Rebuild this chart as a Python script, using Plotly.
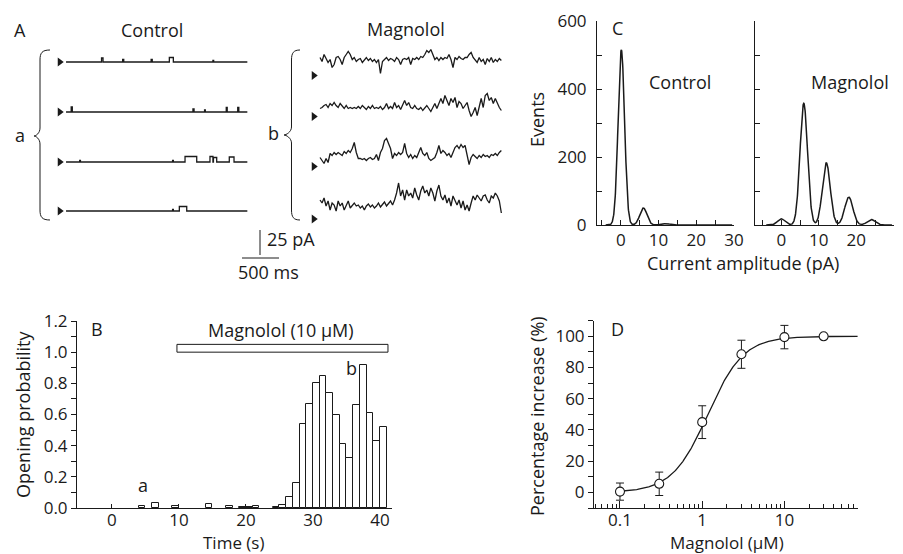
import numpy as np
import plotly.graph_objects as go

W, H = 903, 554
FONT = "Open Sans"
INK = "#1a1a1a"
FS = 18          # panel labels and titles
FS_TICK = 17     # tick labels

# ---------------- Panel A: single-channel current sweeps ----------------
SWEEP_MS = 2450                      # duration of each sweep (ms)
MAG_T0 = 3432                        # time offset of the magnolol column (ms)
control_baselines = [228, 178, 128, 79]          # closed level of each control sweep (pA offset)
magnolol_baselines = [214.5, 173.5, 123.5, 71]   # closed level of each magnolol sweep (pA offset)

# control sweeps: openings as (start ms, end ms, amplitude pA)
control_openings = [
    [(480, 500, 4.0), (765, 780, 2.5), (1150, 1165, 2.5), (1396, 1450, 4.5), (1985, 1995, 1.5)],
    [(70, 85, 5.0), (1715, 1730, 3.0), (1872, 1882, 2.0), (2165, 2178, 4.5), (2320, 2335, 4.5)],
    [(185, 195, 1.5), (1440, 1450, 1.5), (1608, 1766, 5.5), (1945, 1985, 5.5), (1992, 2036, 4.5),
     (2206, 2270, 5.0)],
    [(1440, 1450, 1.5), (1531, 1631, 4.5)],
]

# magnolol sweeps: current above the closed level (pA), evenly sampled over the sweep
magnolol_sweep_1 = [18, 14, 21, 16, 13, 16, 8, 11, 18, 19, 16, 11, 18, 21, 24,
                    21, 16, 18, 14, 16, 17, 13, 16, 18, 15, 17, 14, 16, 13, 16,
                    2, 14, 16, 18, 15, 17, 16, 14, 18, 16, 11, 16, 17, 16, 18,
                    11, 17, 16, 18, 16, 19, 18, 21, 25, 23, 26, 21, 16, 18, 15,
                    18, 16, 18, 17, 21, 16, 8, 18, 16, 19, 17, 16, 18, 18, 21,
                    23, 18, 16, 13, 18, 14, 16, 11, 17, 14, 18, 13, 16, 14, 17, 15]
magnolol_sweep_2 = [8, 9, 11, 12, 9, 13, 11, 14, 11, 9, 13, 10, 8, 11, 8,
                    9, 8, 9, 8, 10, 8, 11, 9, 7, 10, 8, 11, 8, 9, 8,
                    10, 7, 9, 13, 8, 10, 8, 14, 9, 11, 7, 11, 16, 11, 14,
                    9, 8, 11, 8, 7, 9, 6, 8, 11, 8, 5, 9, 13, 8, 14,
                    18, 13, 21, 16, 11, 18, 14, 19, 9, 15, 13, 8, 11, 14, 6,
                    0, 4, 9, 1, 11, 18, 9, 21, 23, 16, 19, 13, 18, 13, 9, 6]
magnolol_sweep_3 = [9, 6, 3, 8, 4, 13, 11, 14, 12, 14, 12, 11, 15, 13, 16,
                    14, 18, 24, 14, 8, 8, 7, 8, 6, 8, 9, 7, 8, 12, 6,
                    14, 18, 26, 28, 23, 18, 8, 13, 11, 14, 12, 14, 23, 13, 9,
                    12, 8, 11, 9, 14, 19, 13, 11, 14, 8, 6, 8, 9, 14, 21,
                    13, 16, 14, 11, 13, 9, 14, 19, 21, 18, 22, 19, 21, 13, 2,
                    9, 12, 10, 8, 11, 9, 12, 10, 11, 9, 12, 11, 13, 11, 14, 16]
magnolol_sweep_4 = [19, 16, 21, 13, 18, 9, 16, 14, 8, 18, 13, 16, 9, 14, 18,
                    11, 14, 16, 13, 14, 11, 13, 9, 13, 15, 12, 14, 11, 13, 16,
                    12, 14, 17, 13, 15, 18, 14, 19, 26, 36, 23, 29, 19, 29, 23,
                    26, 21, 31, 24, 19, 28, 33, 26, 29, 23, 31, 26, 18, 28, 34,
                    23, 19, 24, 16, 21, 13, 23, 18, 14, 19, 11, 18, 9, 14, 8,
                    16, 23, 19, 24, 21, 18, 23, 24, 19, 16, 23, 21, 26, 23, 18, 6]
magnolol_sweeps = [magnolol_sweep_1, magnolol_sweep_2, magnolol_sweep_3, magnolol_sweep_4]

SCALE_MS, SCALE_PA = 500, 25         # calibration bar sizes

# ---------------- Panel B: opening probability vs time ----------------
bin_start_s = [4, 6, 9, 14, 17, 19, 20, 21, 24, 25, 26, 27,
               28, 29, 30, 31, 32, 33, 34, 35, 36, 37, 38, 39, 40]
open_prob = [0.015, 0.03, 0.015, 0.028, 0.01, 0.005, 0.005, 0.012, 0.005, 0.018, 0.068, 0.16,
             0.54, 0.67, 0.80, 0.85, 0.74, 0.60, 0.41, 0.32, 0.66, 0.92, 0.61, 0.43, 0.52]
TREAT_START, TREAT_END = 9.7, 41.2   # magnolol application (s)

# ---------------- Panel C: amplitude histograms (Gaussian fits) ----------------
ctrl_peak_pA = [0.15, 6.0, 12.0]
ctrl_peak_events = [515, 50, 4]
ctrl_peak_sd = [0.85, 0.95, 1.0]
mag_peak_pA = [0.0, 6.0, 12.0, 18.0, 24.0]
mag_peak_events = [18, 358, 183, 82, 16]
mag_peak_sd = [1.0, 1.0, 1.05, 1.1, 1.1]

# ---------------- Panel D: concentration-response ----------------
conc_uM = [0.1, 0.3, 1, 3, 10, 30]
pct_increase = [0.5, 5.5, 45, 88.5, 99.5, 100]
pct_sem = [5.5, 7.5, 10.5, 9.0, 7.5, 0]
EC50_uM, HILL_N = 1.17, 2.0


def px(x):
    return x / W


def py(y):
    return 1 - y / H


fig = go.Figure()

# --- A: control sweeps ---
for base, events in zip(control_baselines, control_openings):
    xs, ys = [0], [base]
    for s, e, a in events:
        xs += [s, s, e, e]
        ys += [base, base + a, base + a, base]
    xs.append(SWEEP_MS)
    ys.append(base)
    fig.add_trace(go.Scatter(x=xs, y=ys, mode="lines", line=dict(color=INK, width=1.3),
                             xaxis="x", yaxis="y", hoverinfo="skip", showlegend=False))

# --- A: magnolol sweeps ---
for base, sweep in zip(magnolol_baselines, magnolol_sweeps):
    t = MAG_T0 + np.linspace(0, SWEEP_MS, len(sweep))
    fig.add_trace(go.Scatter(x=t, y=np.array(sweep) + base, mode="lines",
                             line=dict(color=INK, width=1.3), xaxis="x", yaxis="y",
                             hoverinfo="skip", showlegend=False))

# closed-level arrowheads
fig.add_trace(go.Scatter(
    x=[-85] * len(control_baselines) + [MAG_T0 - 85] * len(magnolol_baselines),
    y=control_baselines + magnolol_baselines, mode="markers",
    marker=dict(symbol="triangle-right", size=8, color=INK), xaxis="x", yaxis="y",
    hoverinfo="skip", showlegend=False))

# calibration bars
bar_t, bar_y = 2378, 32
fig.add_trace(go.Scatter(x=[bar_t, bar_t + SCALE_MS], y=[bar_y, bar_y], mode="lines",
                         line=dict(color=INK, width=1), xaxis="x", yaxis="y", showlegend=False))
fig.add_trace(go.Scatter(x=[2621, 2621], y=[bar_y + 3, bar_y + 3 + SCALE_PA], mode="lines",
                         line=dict(color=INK, width=1), xaxis="x", yaxis="y", showlegend=False))

# --- B: histogram ---
fig.add_trace(go.Bar(x=np.array(bin_start_s) + 0.5, y=open_prob, width=1,
                     marker=dict(color="white", line=dict(color=INK, width=1)),
                     xaxis="x2", yaxis="y2", showlegend=False))


def gauss_sum(x, mu, amp, sd):
    out = np.zeros_like(x)
    for m, a, s in zip(mu, amp, sd):
        out += a * np.exp(-0.5 * ((x - m) / s) ** 2)
    return out


xa = np.linspace(-4, 29.5, 700)
fig.add_trace(go.Scatter(x=xa, y=gauss_sum(xa, ctrl_peak_pA, ctrl_peak_events, ctrl_peak_sd),
                         mode="lines", line=dict(color=INK, width=1.5),
                         xaxis="x3", yaxis="y3", showlegend=False))
fig.add_trace(go.Scatter(x=xa, y=gauss_sum(xa, mag_peak_pA, mag_peak_events, mag_peak_sd),
                         mode="lines", line=dict(color=INK, width=1.5),
                         xaxis="x4", yaxis="y4", showlegend=False))

# --- D: Hill fit and mean ± SEM ---
xc = np.logspace(-1, 1.89, 300)
fig.add_trace(go.Scatter(x=xc, y=100 * xc ** HILL_N / (xc ** HILL_N + EC50_uM ** HILL_N),
                         mode="lines", line=dict(color=INK, width=1.3),
                         xaxis="x5", yaxis="y5", showlegend=False))
fig.add_trace(go.Scatter(x=conc_uM, y=pct_increase, mode="markers",
                         marker=dict(symbol="circle", size=9, color="white",
                                     line=dict(color=INK, width=1.1)),
                         error_y=dict(type="data", array=pct_sem, visible=True,
                                      color=INK, thickness=1, width=4),
                         xaxis="x5", yaxis="y5", showlegend=False))

# ---------------- shapes ----------------
def brace(x_tip, x_stem, x_end, y_top, y_mid, y_bot):
    pts = [
        ("M", [(x_end, y_top)]),
        ("C", [(x_stem + 2, y_top), (x_stem, y_top + 3), (x_stem, y_top + 10)]),
        ("L", [(x_stem, y_mid - 8)]),
        ("C", [(x_stem, y_mid - 3), (x_tip + 2, y_mid), (x_tip, y_mid)]),
        ("C", [(x_tip + 2, y_mid), (x_stem, y_mid + 3), (x_stem, y_mid + 8)]),
        ("L", [(x_stem, y_bot - 10)]),
        ("C", [(x_stem, y_bot - 3), (x_stem + 2, y_bot), (x_end, y_bot)]),
    ]
    s = ""
    for cmd, pp in pts:
        s += cmd + " " + " ".join(f"{px(a):.5f},{py(b):.5f}" for a, b in pp) + " "
    return dict(type="path", path=s.strip(), xref="paper", yref="paper",
                line=dict(color=INK, width=1))


shapes = [
    brace(34, 40, 50, 50, 136, 220),
    brace(284, 291.5, 300, 50, 135, 220),
    dict(type="rect", xref="x2", yref="y2", x0=TREAT_START, x1=TREAT_END, y0=1.0, y1=1.05,
         line=dict(color=INK, width=1), fillcolor="white"),
]

# ---------------- text ----------------
def note(text, x, y, size=FS, angle=0, xanchor="center", xref="paper", yref="paper"):
    if xref == "paper":
        x, y = px(x), py(y)
    return dict(text=text, x=x, y=y, xref=xref, yref=yref, showarrow=False,
                xanchor=xanchor, yanchor="middle", textangle=angle,
                font=dict(family=FONT, size=size, color=INK))


annotations = [
    note("A", 20, 30), note("Control", 152, 30), note("Magnolol", 406, 29),
    note("a", 20, 135), note("b", 273, 133),
    note("25 pA", 265, 239, xanchor="left"), note("500 ms", 268, 272),
    note("B", -2.2, 1.147, xref="x2", yref="y2"),
    note("Magnolol (10 μM)", 25.3, 1.142, xref="x2", yref="y2"),
    note("a", 4.7, 0.15, xref="x2", yref="y2"),
    note("b", 35.8, 0.90, xref="x2", yref="y2"),
    note("Opening probability", 23, 415, angle=-90),
    note("Time (s)", 233, 542.5, size=17),
    note("C", 617, 28), note("Control", 680, 82), note("Magnolol", 850, 82),
    note("Events", 537, 120, angle=-90),
    note("Current amplitude (pA)", 743, 263),
    note("D", 617, 329),
    note("Percentage increase (%)", 537, 416, angle=-90),
    note("Magnolol (μM)", 727, 542.5, size=17),
]

tickfont = dict(family=FONT, size=FS_TICK, color=INK)
base_axis = dict(showgrid=False, zeroline=False, showline=True, linecolor=INK, linewidth=1,
                 tickcolor=INK, tickwidth=1, tickfont=tickfont, fixedrange=True,
                 automargin=False)

amp_ticks = [-5, 0, 5, 10, 15, 20, 25, 30]
amp_text = ["" if v % 10 else str(v) for v in amp_ticks]
ev_ticks = list(range(0, 601, 100))
ev_text = [str(v) if v % 200 == 0 else "" for v in ev_ticks]
po_ticks = [round(0.1 * i, 1) for i in range(13)]
po_text = [f"{v:.1f}" if i % 2 == 0 else "" for i, v in enumerate(po_ticks)]
pct_ticks = list(range(-10, 111, 10))
pct_text = [str(v) if v % 20 == 0 else "" for v in pct_ticks]
conc_major = [0.1, 1, 10]
conc_minor = [0.05, 0.06, 0.07, 0.08, 0.09, 0.2, 0.3, 0.4, 0.5, 0.6, 0.7, 0.8, 0.9,
              2, 3, 4, 5, 6, 7, 8, 9, 20, 30, 40, 50, 60, 70]
conc_ticks = sorted(conc_major + conc_minor)
conc_text = [f"{v:g}" if v in conc_major else "" for v in conc_ticks]

fig.update_layout(
    width=W, height=H, margin=dict(l=0, r=0, t=0, b=0, pad=0, autoexpand=False),
    paper_bgcolor="white", plot_bgcolor="rgba(0,0,0,0)",
    showlegend=False, bargap=0, shapes=shapes, annotations=annotations,
    font=dict(family=FONT, color=INK),
    xaxis=dict(domain=[0, px(520)], range=[-892, 6134], visible=False, anchor="y"),
    yaxis=dict(domain=[py(290), py(20)], range=[0, 270], visible=False, anchor="x"),
    xaxis2=dict(base_axis, domain=[px(77), px(392)], range=[-5.22, 41.8], anchor="y2",
                ticks="inside", ticklen=4, tickvals=[0, 10, 20, 30, 40],
                ticklabelstandoff=-3),
    yaxis2=dict(base_axis, domain=[py(508), py(321)], range=[0, 1.2], anchor="x2",
                ticks="outside", ticklen=5, tickvals=po_ticks, ticktext=po_text),
    xaxis3=dict(base_axis, domain=[px(597), px(734)], range=[-6.3, 30], anchor="y3",
                ticks="inside", ticklen=5, tickvals=amp_ticks, ticktext=amp_text),
    yaxis3=dict(base_axis, domain=[py(225), py(21)], range=[0, 600], anchor="x3",
                ticks="inside", ticklen=5, tickvals=ev_ticks, ticktext=ev_text,
                ticklabelstandoff=6),
    xaxis4=dict(base_axis, domain=[px(755), px(894)], range=[-7, 30.05], anchor="y4",
                ticks="inside", ticklen=5, tickvals=amp_ticks, ticktext=amp_text),
    yaxis4=dict(base_axis, domain=[py(225), py(21)], range=[0, 600], anchor="x4",
                ticks="inside", ticklen=5, tickvals=ev_ticks, showticklabels=False),
    xaxis5=dict(base_axis, type="log", domain=[px(594), px(858)], range=[-1.316, 1.895],
                anchor="y5", ticks="inside", ticklen=4, tickvals=conc_ticks,
                ticktext=conc_text, ticklabelstandoff=-3,
                minor=dict(tickvals=conc_major, ticks="inside", ticklen=7, tickcolor=INK)),
    yaxis5=dict(base_axis, domain=[py(508), py(320.7)], range=[-10, 110], anchor="x5",
                ticks="outside", ticklen=5, tickvals=pct_ticks, ticktext=pct_text),
)

fig.write_html("out.html")
